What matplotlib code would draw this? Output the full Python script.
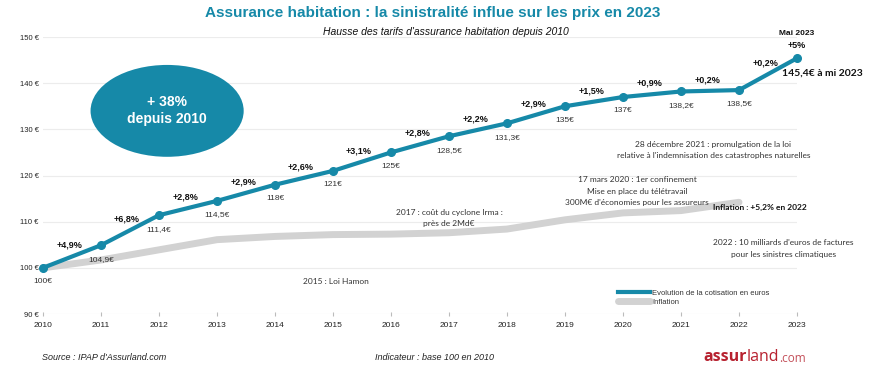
import matplotlib
matplotlib.use("Agg")
import matplotlib.pyplot as plt
from matplotlib.patches import Ellipse

plt.rcParams['font.family'] = ['Liberation Sans', 'DejaVu Sans']

years = [2010, 2011, 2012, 2013, 2014, 2015, 2016, 2017, 2018, 2019, 2020, 2021, 2022, 2023]
cotisation = [100, 104.9, 111.4, 114.5, 118, 121, 125, 128.5, 131.3, 135, 137, 138.2, 138.5, 145.4]
value_labels = ["100€", "104,9€", "111,4€", "114,5€", "118€", "121€", "125€", "128,5€",
                "131,3€", "135€", "137€", "138,2€", "138,5€"]
pct_labels = ["+4,9%", "+6,8%", "+2,8%", "+2,9%", "+2,6%", "+3,1%", "+2,8%", "+2,2%",
              "+2,9%", "+1,5%", "+0,9%", "+0,2%", "+0,2%", "+5%"]
infl_years = [2010, 2011, 2012, 2013, 2014, 2015, 2016, 2017, 2018, 2019, 2020, 2021, 2022]
inflation = [100, 101.7, 103.9, 106.1, 106.8, 107.2, 107.3, 107.6, 108.4, 110.4, 111.9, 112.4, 114.2]
yticks = [90, 100, 110, 120, 130, 140, 150]
ytick_labels = ["90 €", "100 €", "110 €", "120 €", "130 €", "140 €", "150 €"]

BLUE = "#1689a8"
GRAY = "#d2d2d2"
RED = "#b7212f"

W, H = 870, 366
fig = plt.figure(figsize=(8.7, 3.66), dpi=100)
ax = fig.add_axes([43 / W, 1 - 314 / H, (797 - 43) / W, (314 - 37) / H])
ax.set_xlim(2010, 2023)
ax.set_ylim(90, 150)

for s in ax.spines.values():
    s.set_visible(False)
ax.set_yticks(yticks)
ax.set_yticklabels(ytick_labels, fontsize=5.5, color="#222222")
ax.set_xticks(years)
ax.set_xticklabels([str(y) for y in years], fontsize=6, color="#222222")
ax.tick_params(axis='y', length=0, pad=3)
ax.tick_params(axis='x', length=3, color="#bbbbbb", direction='inout', pad=4)
ax.grid(axis='y', color="#ececec", linewidth=0.8)
ax.set_axisbelow(True)

# inflation line
l_infl, = ax.plot(infl_years, inflation, color=GRAY, linewidth=5, solid_capstyle='round',
                  label="Inflation", zorder=2, clip_on=False)
# cotisation line
l_cot, = ax.plot(years, cotisation, color=BLUE, linewidth=3, marker='o', markersize=5.5,
                 label="Evolution de la cotisation en euros", zorder=3, clip_on=False)

# value labels under points
for x, v, lab in zip(years[:-1], cotisation[:-1], value_labels):
    ax.annotate(lab, (x, v), xytext=(0, -10), textcoords='offset points',
                ha='center', va='center', fontsize=6, color="#333333")

# percent labels above segments
for i, lab in enumerate(pct_labels[:-1]):
    x0, x1 = years[i], years[i + 1]
    y0, y1 = cotisation[i], cotisation[i + 1]
    ax.annotate(lab, ((x0 + x1) / 2 - 0.05, (y0 + y1) / 2), xytext=(0, 8),
                textcoords='offset points', ha='center', va='center',
                fontsize=6.5, fontweight='bold', color="#111111")

# last point annotations
ax.annotate("Mai 2023", (years[-1], cotisation[-1]), xytext=(0, 18), textcoords='offset points',
            ha='center', va='center', fontsize=6, fontweight='bold', color="#111111")
ax.annotate(pct_labels[-1], (years[-1], cotisation[-1]), xytext=(0, 9), textcoords='offset points',
            ha='center', va='center', fontsize=6.5, fontweight='bold', color="#111111")
ax.annotate("145,4€ à mi 2023", (years[-1], cotisation[-1]), xytext=(-11, -11),
            textcoords='offset points', ha='left', va='center', fontsize=7.5,
            fontweight='bold', color="#111111", annotation_clip=False, family=['Lato', 'DejaVu Sans'])

# ellipse
ell = Ellipse((2012.14, 134.0), 2.64, 19.9, facecolor=BLUE, edgecolor='none', zorder=4)
ax.add_patch(ell)
ax.text(2012.14, 136.0, "+ 38%", ha='center', va='center', fontsize=10,
        fontweight='bold', color='white', zorder=5)
ax.text(2012.14, 132.3, "depuis 2010", ha='center', va='center', fontsize=10,
        fontweight='bold', color='white', zorder=5)

# event annotations
ann_font = dict(fontsize=6, color="#333333", ha='center', va='center', family=['Lato', 'DejaVu Sans'])
ax.text(2021.56, 126.8, "28 décembre 2021 : promulgation de la loi", **ann_font)
ax.text(2021.56, 124.4, "relative à l'indemnisation des catastrophes naturelles", **ann_font)
ax.text(2020.24, 119.2, "17 mars 2020 : 1er confinement", **ann_font)
ax.text(2020.24, 116.5, "Mise en place du télétravail", **ann_font)
ax.text(2020.24, 114.1, "300M€ d'économies pour les assureurs", **ann_font)
ax.text(2017.0, 111.9, "2017 : coût du cyclone Irma :", **ann_font)
ax.text(2017.0, 109.5, "près de 2Md€", **ann_font)
ax.text(2022.36, 113.0, "Inflation : +5,2% en 2022", fontsize=6, fontweight='bold',
        color="#111111", ha='center', va='center', family=['Lato', 'DejaVu Sans'])
ax.text(2022.76, 105.4, "2022 : 10 milliards d'euros de factures", **ann_font)
ax.text(2022.76, 102.8, "pour les sinistres climatiques", **ann_font)
ax.text(2015.05, 97.1, "2015 : Loi Hamon", **ann_font)

leg = ax.legend(handles=[l_cot, l_infl], loc='lower left', bbox_to_anchor=(0.757, 0.015),
                frameon=False, fontsize=5.5, handlelength=4.2, handletextpad=0.3,
                labelspacing=0.25, borderpad=0)
for h in leg.legend_handles:
    h.set_marker('')
for t in leg.get_texts():
    t.set_color("#333333")

# titles
fig.text(433 / W, 1 - 13 / H, "Assurance habitation : la sinistralité influe sur les prix en 2023",
         ha='center', va='center', fontsize=11, fontweight='bold', color=BLUE)
fig.text(446 / W, 1 - 32 / H, "Hausse des tarifs d'assurance habitation depuis 2010",
         ha='center', va='center', fontsize=7.5, style='italic', color="#111111")

# footer
fig.text(42 / W, 1 - 357 / H, "Source : IPAP d'Assurland.com", ha='left', va='center',
         fontsize=6.5, style='italic', color="#222222")
fig.text(375 / W, 1 - 357 / H, "Indicateur : base 100 en 2010", ha='left', va='center',
         fontsize=6.5, style='italic', color="#222222")

t1 = fig.text(703 / W, 1 - 361 / H, "assur", ha='left', va='baseline', fontsize=11.5,
              fontweight='bold', color=RED, family=['Open Sans', 'DejaVu Sans'])
a2 = ax.annotate("land", xy=(1, 0), xycoords=t1, va='bottom', ha='left', fontsize=11.5,
                 color=RED, family=['Open Sans', 'DejaVu Sans'], annotation_clip=False)
ax.annotate(".com", xy=(1, 0), xycoords=a2, va='bottom', ha='left', fontsize=8.5,
            color="#c4505a", family=['Open Sans', 'DejaVu Sans'], annotation_clip=False)

fig.savefig("out.png", dpi=100)
